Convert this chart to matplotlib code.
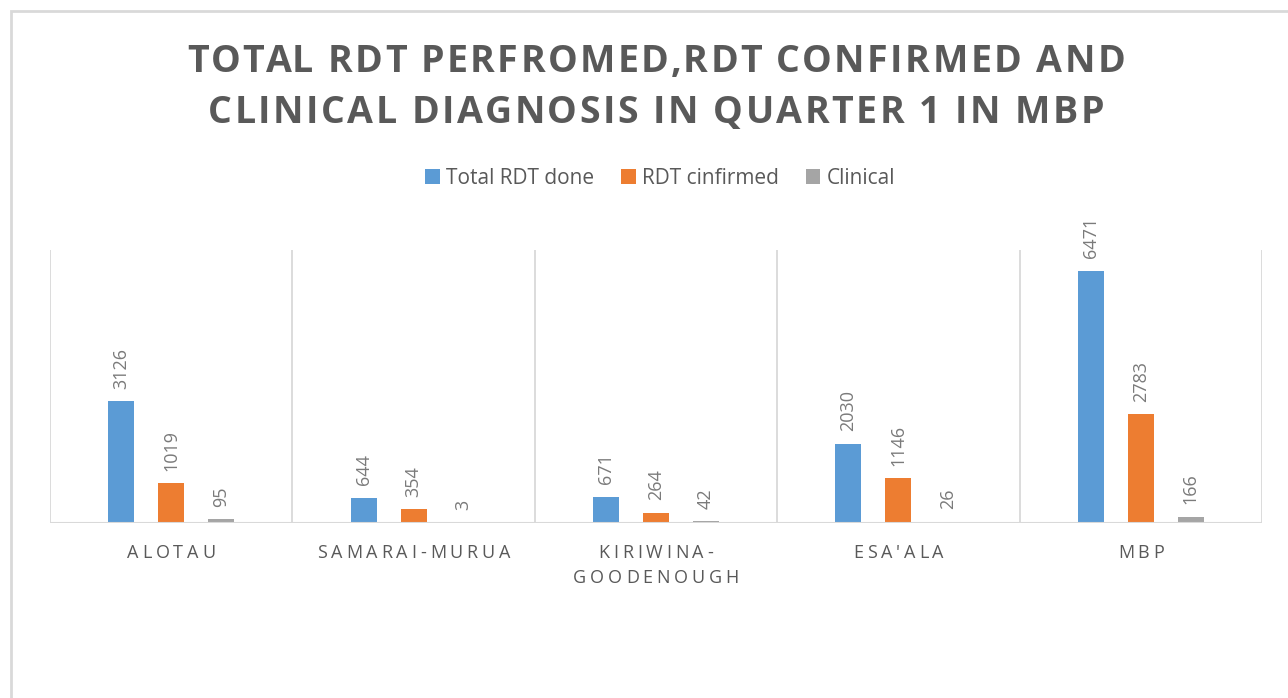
import numpy as np
import matplotlib
matplotlib.use("Agg")
import matplotlib.pyplot as plt
from matplotlib.patches import Rectangle, Patch

plt.rcParams['font.family'] = ['Open Sans', 'DejaVu Sans']

districts = ["ALOTAU", "SAMARAI-MURUA", "KIRIWINA-\nGOODENOUGH", "ESA'ALA", "MBP"]
series_names = ["Total RDT done", "RDT cinfirmed", "Clinical"]
total_rdt = [3126, 644, 671, 2030, 6471]
rdt_confirmed = [1019, 354, 264, 1146, 2783]
clinical = [95, 3, 42, 26, 166]

colors = ["#5B9BD5", "#ED7D31", "#A5A5A5"]
text_gray = "#595959"
label_gray = "#7A7A7A"
grid_gray = "#D9D9D9"

W, H = 1288, 698
fig = plt.figure(figsize=(W / 100, H / 100), dpi=100)
renderer = fig.canvas.get_renderer()


def px(x, y):
    return x / W, 1 - y / H


def text_width(s, size, weight):
    t = fig.text(0, 0, s + "I", fontsize=size, fontweight=weight)
    t2 = fig.text(0, 0, "I", fontsize=size, fontweight=weight)
    w = t.get_window_extent(renderer).width - t2.get_window_extent(renderer).width
    t.remove()
    t2.remove()
    return w


def spaced_text(cx, base_y, s, size, spacing, weight="normal", color=text_gray):
    # draw letter-spaced text centred on cx, sitting on baseline base_y (pixels)
    offsets = [text_width(s[:i], size, weight) + i * spacing for i in range(len(s))]
    total = text_width(s, size, weight) + (len(s) - 1) * spacing
    x0 = cx - total / 2
    for ch, off in zip(s, offsets):
        if ch == " ":
            continue
        fig.text(*px(x0 + off, base_y), ch, fontsize=size, fontweight=weight,
                 color=color, ha="left", va="baseline")


# outer frame (right and bottom edges fall outside the picture)
fig.patches.append(Rectangle(px(11, H + 20), (W + 20) / W, (H + 20 - 11) / H,
                             transform=fig.transFigure, fill=False,
                             edgecolor=grid_gray, linewidth=2))

ax_l, ax_r, ax_t, ax_b = 50, 1262, 250, 523
ax = fig.add_axes([ax_l / W, 1 - ax_b / H, (ax_r - ax_l) / W, (ax_b - ax_t) / H])

x = np.arange(len(districts))
offset = 0.206
width = 0.107
all_series = [total_rdt, rdt_confirmed, clinical]
for i, (vals, c) in enumerate(zip(all_series, colors)):
    pos = x + (i - 1) * offset
    ax.bar(pos, vals, width=width, color=c, zorder=2)
    for p, v in zip(pos, vals):
        ax.annotate(str(v), (p, v), xytext=(0, 9), textcoords="offset points",
                    rotation=90, ha="center", va="bottom", fontsize=13,
                    color=label_gray)

ax.set_xlim(-0.5, len(districts) - 0.5)
ax.set_ylim(0, 7000)
for k in range(len(districts) + 1):
    ax.axvline(k - 0.5, color=grid_gray, linewidth=1.3, zorder=1)
ax.axhline(0, color=grid_gray, linewidth=1.5, zorder=3)
for s in ax.spines.values():
    s.set_visible(False)
ax.set_xticks([])
ax.set_yticks([])

# category labels
cat_w = (ax_r - ax_l) / len(districts)
for i, name in enumerate(districts):
    cx = ax_l + cat_w * (i + 0.5)
    for j, line in enumerate(name.split("\n")):
        spaced_text(cx, 558 + j * 25, line, 13, 3.8)

# title
spaced_text(656, 72, "TOTAL RDT PERFROMED,RDT CONFIRMED AND", 27, 2.5, weight="bold")
spaced_text(656, 123, "CLINICAL DIAGNOSIS IN QUARTER 1 IN MBP", 27, 2.5, weight="bold")

# legend
handles = [Patch(facecolor=c, edgecolor="none") for c in colors]
fig.legend(handles, series_names, loc="center", bbox_to_anchor=px(660, 178),
           ncol=3, frameon=False, fontsize=15, labelcolor=text_gray,
           handlelength=0.7, handleheight=0.7, handletextpad=0.3,
           columnspacing=1.3)

fig.savefig("out.png", dpi=100)
